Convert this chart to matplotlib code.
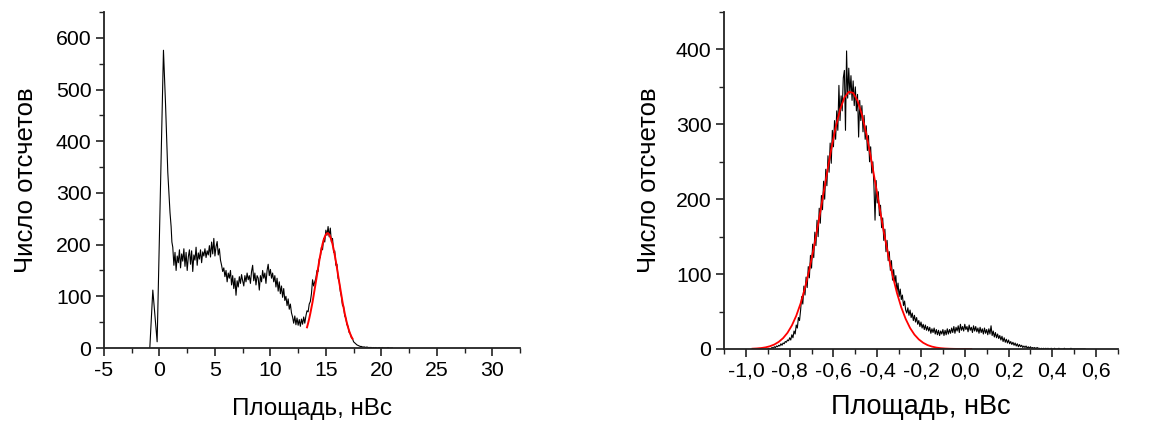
import numpy as np
import matplotlib
matplotlib.use("Agg")
import matplotlib.pyplot as plt
from matplotlib.ticker import MultipleLocator, FuncFormatter

plt.rcParams["font.family"] = ["Liberation Sans", "DejaVu Sans"]
plt.rcParams["axes.unicode_minus"] = False

# ---------------- left panel: charge spectrum ----------------
# coarse points of the pedestal / first peak
left_head_x = [-0.87, -0.60, -0.21, 0.36, 0.55, 0.75, 0.95, 1.05, 1.12]
left_head_y = [0, 112, 12, 576, 470, 340, 262, 235, 205]

# fine bins from 1.2 nVs, step 0.1 nVs
left_bin_start = 1.2
left_bin_step = 0.1
left_counts = [
    195, 160, 185, 150, 178, 165, 190, 155, 182,
    168, 192, 158, 185, 150, 176, 190, 162, 188, 148,
    180, 170, 195, 160, 184, 172, 190, 165, 186, 178,
    192, 175, 188, 180, 198, 176, 205, 182, 212, 178,
    196, 206, 180, 192, 170, 160, 148, 155, 138, 150,
    128, 145, 135, 150, 122, 140, 115, 135, 102, 130,
    118, 138, 125, 142, 130, 120, 140, 128, 145, 132,
    140, 125, 148, 160, 130, 145, 122, 140, 135, 112,
    140, 128, 150, 135, 145, 125, 150, 162, 140, 152,
    135, 145, 128, 140, 118, 135, 110, 128, 105, 120,
    98, 115, 92, 100, 82, 95, 75, 85, 68, 60,
    48, 62, 45, 58, 44, 55, 42, 56, 46, 60,
    48, 62, 72, 70, 85, 90, 105, 132, 120, 128,
    135, 150, 148, 172, 176, 195, 190, 212, 205, 228,
    218, 235, 215, 232, 205, 212, 185, 188, 160, 162,
    135, 130, 110, 100, 82, 80, 62, 58, 45, 42,
    30, 28, 20, 18, 12, 10, 8, 6, 5, 4,
    3, 3, 2, 2, 2, 1, 2, 1, 1, 1,
    1, 0, 1, 0, 1, 0, 0, 1, 0, 0,
    1, 0, 0, 0, 0, 1, 0, 0, 0, 0,
]

# gaussian fit of the single-photoelectron peak
left_fit_x0 = 13.3
left_fit_step = 0.1
left_fit_y = [
    40, 48, 57, 67, 78, 89, 102, 115, 128, 141,
    155, 168, 180, 191, 201, 209, 215, 219.5, 222, 222,
    219.5, 215, 209, 201, 191, 180, 168, 155, 141, 128,
    115, 102, 89, 78, 67, 57, 48, 40, 33, 27,
    22, 18,
]

# ---------------- right panel: pedestal spectrum ----------------
right_bin_start = -0.900
right_bin_step = 0.005
right_counts = [
    0, 1, 0, 1, 2, 1, 3, 2, 4, 3,
    5, 4, 7, 5, 8, 7, 10, 9, 12, 11,
    15, 12, 19, 15, 24, 20, 32, 28, 42, 38,
    52, 70, 60, 84, 72, 96, 82, 110, 95, 125,
    108, 140, 122, 156, 138, 172, 150, 188, 168, 205,
    186, 224, 200, 240, 218, 258, 236, 275, 248, 292,
    270, 305, 280, 318, 292, 352, 305, 338, 318, 362,
    372, 292, 398, 335, 375, 340, 365, 332, 358, 325,
    350, 318, 340, 283, 332, 305, 325, 290, 312, 280,
    298, 265, 285, 250, 270, 235, 250, 218, 172, 225,
    195, 210, 178, 192, 162, 175, 145, 160, 130, 145,
    118, 130, 105, 118, 92, 106, 88, 98, 76, 88,
    70, 80, 66, 72, 58, 64, 52, 48, 55, 45,
    52, 42, 48, 38, 45, 36, 42, 33, 38, 30,
    36, 28, 33, 26, 32, 25, 30, 24, 29, 21,
    27, 22, 28, 20, 26, 19, 25, 18, 24, 20,
    26, 18, 25, 19, 27, 20, 26, 21, 28, 22,
    30, 21, 29, 24, 31, 22, 33, 25, 30, 24,
    33, 26, 30, 23, 32, 25, 29, 22, 31, 24,
    30, 23, 28, 21, 29, 22, 27, 20, 28, 21,
    26, 19, 27, 20, 31, 18, 24, 16, 22, 15,
    20, 14, 18, 12, 17, 10, 15, 9, 13, 8,
    12, 7, 10, 6, 9, 5, 8, 4, 7, 3,
    6, 3, 5, 2, 4, 2, 4, 1, 3, 1,
    3, 1, 2, 1, 2, 0, 2, 1, 1, 0,
    1, 0, 1, 0, 1, 0, 1, 0, 0, 1,
    0, 0, 1, 0, 0, 0, 1, 0, 0, 0,
    0, 1, 0, 0, 0, 0, 0, 1, 0, 0,
    0, 0, 0, 0, 0, 0, 0, 0, 0, 0,
    0,
]

# gaussian fit of the pedestal
right_fit_x0 = -0.97
right_fit_step = 0.02
right_fit_y = [
    0.42, 0.75, 1.3, 2.2, 3.7, 6.0, 9.5, 14.5, 21.6, 31.4,
    44.3, 60.9, 81.6, 106.3, 134.8, 166.5, 200.1, 234.2, 266.8, 295.8,
    319.4, 335.7, 343.4, 342.0, 331.6, 313.0, 287.6, 257.3, 224.0, 189.9,
    156.7, 125.9, 98.5, 74.9, 55.5, 40.1, 28.1, 19.2, 12.8, 8.3,
    5.2, 3.2, 1.9, 1.1, 0.63, 0.35, 0.19, 0.1, 0.05, 0.02,
    0.01,
]

x_label = "Площадь, нВс"
y_label = "Число отсчетов"

W, H = 1151, 423
fig = plt.figure(figsize=(W / 100, H / 100), dpi=100)

ax1 = fig.add_axes([104 / W, 1 - 348 / H, 416 / W, 336 / H])
ax2 = fig.add_axes([724 / W, 1 - 349 / H, 394 / W, 337 / H])

# left data
lx = np.concatenate([left_head_x,
                     left_bin_start + left_bin_step * np.arange(len(left_counts))])
ly = np.concatenate([left_head_y, left_counts])
ax1.plot(lx, ly, color="black", lw=0.8)
lfx = left_fit_x0 + left_fit_step * np.arange(len(left_fit_y))
ax1.plot(lfx, left_fit_y, color="red", lw=1.4)

# right data
rx = right_bin_start + right_bin_step * np.arange(len(right_counts))
ax2.plot(rx, right_counts, color="black", lw=0.8)
rfx = right_fit_x0 + right_fit_step * np.arange(len(right_fit_y))
ax2.plot(rfx, right_fit_y, color="red", lw=1.3)

ax1.set_xlim(-5, 32.5)
ax1.set_ylim(0, 650)
ax1.xaxis.set_major_locator(MultipleLocator(5))
ax1.xaxis.set_minor_locator(MultipleLocator(2.5))
ax1.yaxis.set_major_locator(MultipleLocator(100))
ax1.yaxis.set_minor_locator(MultipleLocator(50))
ax1.xaxis.set_major_formatter(FuncFormatter(lambda v, p: f"{v:.0f}"))

ax2.set_xlim(-1.1, 0.7)
ax2.set_ylim(0, 450)
ax2.xaxis.set_major_locator(MultipleLocator(0.2))
ax2.xaxis.set_minor_locator(MultipleLocator(0.1))
ax2.yaxis.set_major_locator(MultipleLocator(100))
ax2.yaxis.set_minor_locator(MultipleLocator(50))
ax2.xaxis.set_major_formatter(
    FuncFormatter(lambda v, p: f"{v:.1f}".replace(".", ",").replace("-0,0", "0,0")))

for ax in (ax1, ax2):
    for s in ("top", "right"):
        ax.spines[s].set_visible(False)
    for s in ("left", "bottom"):
        ax.spines[s].set_linewidth(1.3)
        ax.spines[s].set_color("#222222")
    ax.tick_params(which="major", direction="out", length=6, width=1.2,
                   labelsize=15.3, color="#222222", pad=3)
    ax.tick_params(which="minor", direction="out", length=3.5, width=1.0,
                   color="#222222")

ax1.set_xlabel(x_label, fontsize=17.5, labelpad=13)
ax1.set_ylabel(y_label, fontsize=18.5, labelpad=13)
ax2.set_xlabel(x_label, fontsize=19.5, labelpad=10)
ax2.set_ylabel(y_label, fontsize=18.5, labelpad=11)

fig.savefig("out.png", dpi=100)
